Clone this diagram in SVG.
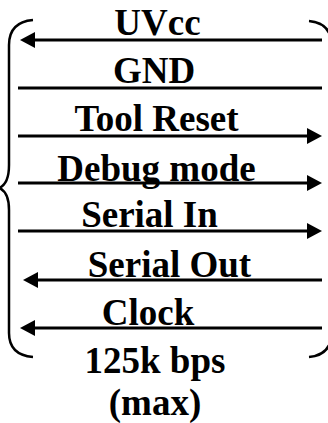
<svg xmlns="http://www.w3.org/2000/svg" width="328" height="423" viewBox="0 0 328 423">
<style>
.t{font-family:"Liberation Serif","Times New Roman",serif;font-weight:bold;font-size:37px;fill:#000;text-anchor:middle}
.w{stroke:#000;stroke-width:3;fill:none}
.b{stroke:#000;stroke-width:2.5;fill:none}
</style>
<defs>
<marker id="ah" markerUnits="userSpaceOnUse" markerWidth="16" markerHeight="16" refX="5" refY="8" orient="auto">
<path d="M0,0 L15,8 L0,16 z" fill="#000"/>
</marker>
</defs>
<rect width="328" height="423" fill="#fff"/>
<g id="braces">
<path class="b" d="M33,20 Q9,22 9,45 L9,165 Q9,184 -1,188 Q9,192 9,210 L9,333 Q9,355 33,357"/>
<path class="b" d="M309,21 Q331,23 332,45 L332,333 Q331,355 309,357"/>
</g>
<g id="connectors">
<line class="w" x1="322" y1="40" x2="30" y2="40" marker-end="url(#ah)"/>
<line class="w" x1="18" y1="88" x2="322" y2="88"/>
<line class="w" x1="18" y1="136" x2="312" y2="136" marker-end="url(#ah)"/>
<line class="w" x1="18" y1="183" x2="312" y2="183" marker-end="url(#ah)"/>
<line class="w" x1="18" y1="231" x2="312" y2="231" marker-end="url(#ah)"/>
<line class="w" x1="322" y1="280" x2="33" y2="280" marker-end="url(#ah)"/>
<line class="w" x1="322" y1="328" x2="30" y2="328" marker-end="url(#ah)"/>
</g>
<g id="uvcc"><text class="t" x="157.5" y="35">UVcc</text></g>
<g id="gnd"><text class="t" x="154" y="83">GND</text></g>
<g id="tool-reset"><text class="t" x="156.5" y="131">Tool Reset</text></g>
<g id="debug-mode"><text class="t" x="156.5" y="181">Debug mode</text></g>
<g id="serial-in"><text class="t" x="149.5" y="227">Serial In</text></g>
<g id="serial-out"><text class="t" x="169.5" y="277">Serial Out</text></g>
<g id="clock"><text class="t" x="148" y="325">Clock</text></g>
<g id="rate"><text class="t" x="155" y="373">125k bps</text><text class="t" x="155" y="415">(max)</text></g>
</svg>
